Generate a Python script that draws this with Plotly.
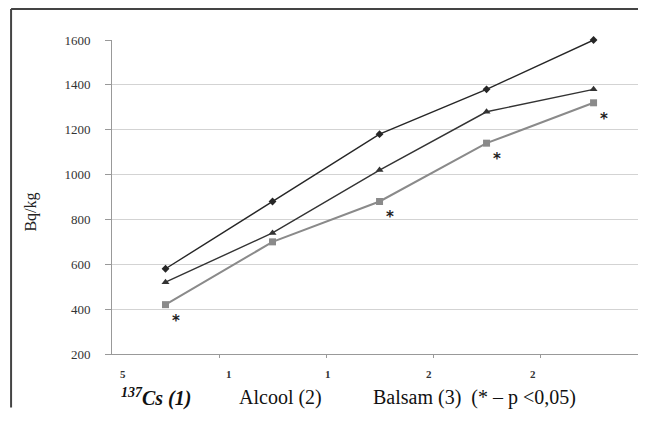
import plotly.graph_objects as go

# ---- data ----
groups = ["5", "1", "1", "2", "2"]
cs137 = [580, 880, 1180, 1380, 1600]
alcool = [520, 740, 1020, 1280, 1380]
balsam = [420, 700, 880, 1140, 1320]
signif = [True, False, True, True, True]
yticks = [200, 400, 600, 800, 1000, 1200, 1400, 1600]

xs = list(range(len(groups)))

fig = go.Figure()
fig.add_trace(go.Scatter(x=xs, y=cs137, mode="lines+markers", cliponaxis=False,
                         line=dict(color="#262626", width=1.4),
                         marker=dict(symbol="diamond", size=6, color="#262626")))
fig.add_trace(go.Scatter(x=xs, y=alcool, mode="lines+markers", cliponaxis=False,
                         line=dict(color="#333333", width=1.4),
                         marker=dict(symbol="triangle-up", size=7, color="#333333")))
fig.add_trace(go.Scatter(x=xs, y=balsam, mode="lines+markers", cliponaxis=False,
                         line=dict(color="#8a8a8a", width=2),
                         marker=dict(symbol="square", size=7, color="#8a8a8a")))

ann = []
for x, y, s in zip(xs, balsam, signif):
    if s:
        ann.append(dict(x=x, y=y, xref="x", yref="y", text="<b>*</b>", showarrow=False,
                        xshift=10, yshift=-16,
                        font=dict(family="DejaVu Sans", size=15, color="#222222")))

# category labels along the x axis
shifts = [11, 10, 2, -4, -7]
for i, (g, sh) in enumerate(zip(groups, shifts)):
    ann.append(dict(x=i - 0.5, y=-0.065, xref="x", yref="paper", text="<b>" + g + "</b>",
                    showarrow=False, xshift=sh, xanchor="center", yanchor="middle",
                    font=dict(family="Liberation Serif", size=11, color="#333")))

serif = "Liberation Serif"
ann.append(dict(x=0.013, y=-0.139, xref="paper", yref="paper", xanchor="left", yanchor="middle",
                text="<b><i><sup>137</sup>Cs (1)</i></b>", showarrow=False,
                font=dict(family=serif, size=20, color="#111")))
ann.append(dict(x=0.234, y=-0.139, xref="paper", yref="paper", xanchor="left", yanchor="middle",
                text="Alcool (2)", showarrow=False,
                font=dict(family=serif, size=20, color="#111")))
ann.append(dict(x=0.485, y=-0.139, xref="paper", yref="paper", xanchor="left", yanchor="middle",
                text="Balsam (3)&nbsp;&nbsp;(* – p &lt;0,05)", showarrow=False,
                font=dict(family=serif, size=20, color="#111")))
ann.append(dict(x=-0.152, y=0.453, xref="paper", yref="paper", textangle=-90,
                xanchor="center", yanchor="middle",
                text="Bq/kg", showarrow=False,
                font=dict(family=serif, size=16, color="#222")))

fig.update_layout(
    width=638, height=405,
    margin=dict(l=104, r=0, t=32, b=59),
    paper_bgcolor="white", plot_bgcolor="white",
    showlegend=False,
    annotations=ann,
    shapes=[
        dict(type="line", xref="paper", yref="paper", x0=-0.189, x1=-0.189, y0=1.0987, y1=-0.17,
             line=dict(color="#444", width=2)),
        dict(type="line", xref="paper", yref="paper", x0=-0.189, x1=0.99, y0=1.0987, y1=1.0987,
             line=dict(color="#444", width=2)),
    ],
)
fig.update_xaxes(range=[-0.5, 4.49], tickvals=[0.5, 1.5, 2.5, 3.5], showticklabels=False,
                 ticks="outside", ticklen=3, tickcolor="#999", showgrid=False,
                 showline=True, linecolor="#999", linewidth=1, zeroline=False)
fig.update_yaxes(range=[200, 1600], tickvals=yticks, ticks="outside", ticklen=6, tickcolor="#999",
                 showline=True, linecolor="#999", linewidth=1, gridcolor="#d3d3d3", gridwidth=1,
                 zeroline=False, ticklabelstandoff=12,
                 tickfont=dict(family="Liberation Serif", size=13, color="#333"))

fig.write_html("out.html")
